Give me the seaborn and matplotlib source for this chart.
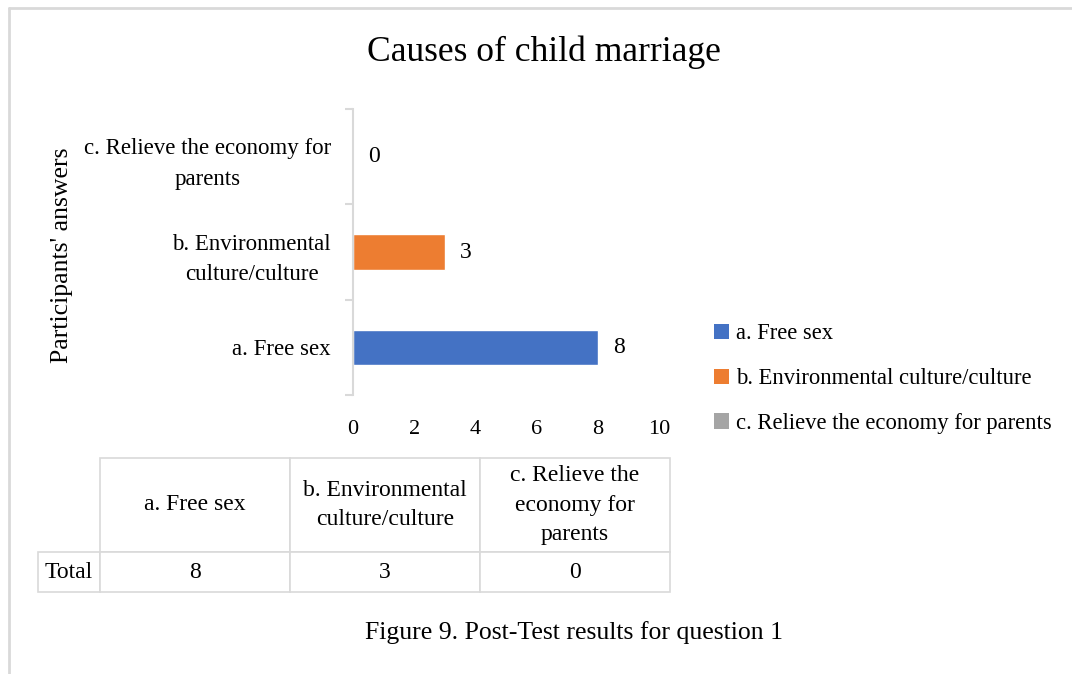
import matplotlib
matplotlib.use("Agg")
import matplotlib.pyplot as plt
from matplotlib.patches import Patch
from matplotlib.lines import Line2D
from matplotlib.table import Table
import seaborn as sns
import pandas as pd

# Data
categories = ["a. Free sex", "b. Environmental culture/culture", "c. Relieve the economy for parents"]
axis_labels = ["a. Free sex", "b. Environmental\nculture/culture", "c. Relieve the economy for\nparents"]
table_headers = ["a. Free sex", "b. Environmental\nculture/culture", "c. Relieve the\neconomy for\nparents"]
totals = [8, 3, 0]
colors = ["#4472C4", "#ED7D31", "#A5A5A5"]
x_ticks = [0, 2, 4, 6, 8, 10]

sns.set_theme(style="white")
plt.rcParams["font.family"] = ["Liberation Serif", "DejaVu Serif"]
plt.rcParams["text.color"] = "black"
plt.rcParams["xtick.color"] = "black"
plt.rcParams["ytick.color"] = "black"

W, H = 1072, 674
fig = plt.figure(figsize=(W / 100, H / 100), dpi=100)
fig.patch.set_facecolor("white")

def fx(px):
    return px / W

def fy(py):
    return 1 - py / H

# Outer frame (top and left edges)
fig.add_artist(Line2D([fx(9), fx(9)], [fy(8), 0], color="#d9d9d9", lw=2, transform=fig.transFigure))
fig.add_artist(Line2D([fx(9), 1], [fy(8), fy(8)], color="#d9d9d9", lw=2, transform=fig.transFigure))

# Bar chart
ax = fig.add_axes([fx(353), fy(395), fx(659) - fx(353), fy(109) - fy(395)])
df = pd.DataFrame({"answer": categories, "total": totals})
order = categories[::-1]
sns.barplot(data=df, y="answer", x="total", hue="answer", order=order,
            hue_order=categories, palette=colors, dodge=False, legend=False,
            width=0.37, ax=ax, saturation=1)

ax.set_xlim(0, 10)
ax.set_ylim(len(categories) - 0.5, -0.5)
ax.set_xticks(x_ticks)
ax.set_xticklabels([str(t) for t in x_ticks], fontsize=16)
ax.set_yticks(range(len(order)))
lab_map = dict(zip(categories, axis_labels))
ax.set_yticklabels([lab_map[c] for c in order], fontsize=16.5,
                   multialignment="center", linespacing=1.6)
ax.set_yticks([i - 0.5 for i in range(len(order) + 1)], minor=True)
ax.tick_params(axis="y", which="major", length=0, pad=16)
ax.tick_params(axis="y", which="minor", left=True, length=6, color="#d9d9d9",
               width=1.5, direction="out")
ax.tick_params(axis="x", length=0, pad=18)
for s in ["top", "right", "bottom"]:
    ax.spines[s].set_visible(False)
ax.spines["left"].set_color("#d9d9d9")
ax.spines["left"].set_linewidth(1.5)
ax.set_xlabel("")
ax.set_ylabel("")

# Value labels
for i, cat in enumerate(order):
    v = totals[categories.index(cat)]
    ax.text(v + 0.5, i, str(v), va="center", ha="left", fontsize=17, color="black")

fig.text(fx(62), fy(255), "Participants' answers", rotation=90, ha="center", va="center", fontsize=18.5)
fig.text(fx(544), fy(52), "Causes of child marriage", ha="center", va="center", fontsize=25.6)

# Legend
handles = [Patch(facecolor=c, edgecolor="none", label=l) for c, l in zip(colors, categories)]
fig.legend(handles=handles, loc="upper left", bbox_to_anchor=(fx(694), fy(303)),
           frameon=False, fontsize=16.3, handlelength=0.65, handleheight=0.65,
           handletextpad=0.3, labelspacing=1.05)

# Data table
tax = fig.add_axes([fx(38), fy(592), fx(670) - fx(38), fy(458) - fy(592)])
tax.axis("off")
tb = Table(tax, bbox=[0, 0, 1, 1])
col_w = [62, 190, 190, 190]
row_h = [94, 40]
row0 = [""] + table_headers
row1 = ["Total"] + [str(v) for v in totals]
for r, row in enumerate([row0, row1]):
    for c, txt in enumerate(row):
        cell = tb.add_cell(r, c, col_w[c], row_h[r], text=txt, loc="center",
                           edgecolor="#d9d9d9", facecolor="white")
        t = cell.get_text()
        t.set_fontsize(17)
        t.set_linespacing(1.55)
        t.set_color("black")
        cell.set_linewidth(1.2)
        if r == 0 and c == 0:
            cell.visible_edges = ""
tb.auto_set_font_size(False)
tax.add_table(tb)

fig.text(fx(574), fy(633), "Figure 9. Post-Test results for question 1", ha="center", va="center", fontsize=18.5)

fig.savefig("out.png", dpi=100, facecolor="white")
